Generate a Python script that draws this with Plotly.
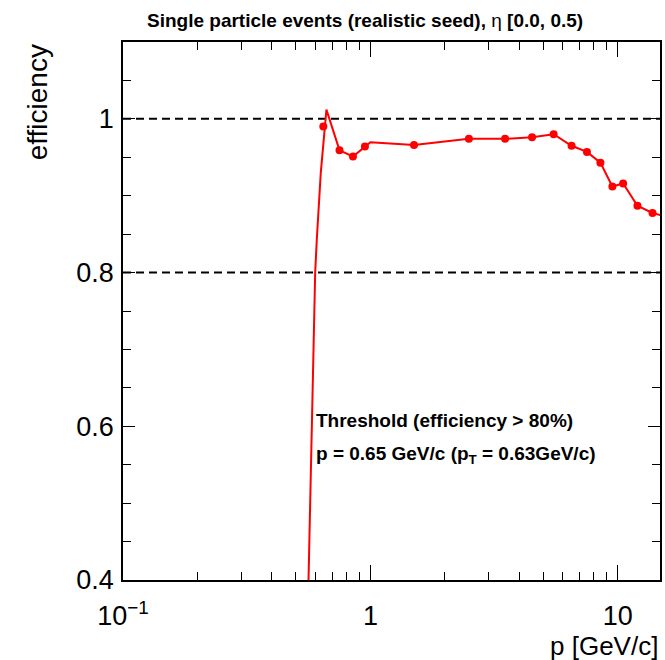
import plotly.graph_objects as go
import math

# ---- data ----
# measured efficiency points (markers)
point_p = [0.645, 0.75, 0.85, 0.95, 1.5, 2.5, 3.5, 4.5, 5.5, 6.5, 7.5, 8.5, 9.5, 10.5, 12.0, 13.8]
point_eff = [0.990, 0.959, 0.951, 0.964, 0.966, 0.974, 0.974, 0.976, 0.980, 0.965, 0.957, 0.943, 0.912, 0.916, 0.887, 0.8775]

# drawn curve (threshold fit + connecting line)
curve_p = [0.562, 0.580, 0.598, 0.607, 0.630, 0.664, 0.75, 0.85, 0.95, 1.0, 1.5, 2.5, 3.5, 4.5, 5.5, 6.5, 7.5, 8.5, 9.5, 10.5, 12.0, 13.8, 16.0]
curve_eff = [0.40, 0.62, 0.80, 0.843, 0.93, 1.012, 0.959, 0.951, 0.964, 0.9696, 0.966, 0.974, 0.974, 0.976, 0.980, 0.965, 0.957, 0.943, 0.912, 0.916, 0.887, 0.8775, 0.872]

ref_levels = [1.0, 0.8]

x_tickvals = [0.1, 1, 10]
x_ticktext = ["10<sup>\u22121</sup>", "1", "10"]
x_minor = [0.2, 0.3, 0.4, 0.5, 0.6, 0.7, 0.8, 0.9, 2, 3, 4, 5, 6, 7, 8, 9]
y_tickvals = [0.4, 0.6, 0.8, 1.0]
y_ticktext = ["0.4", "0.6", "0.8", "1"]

title_text = "<b>Single particle events (realistic seed), </b>\u03b7<b> [0.0, 0.5)</b>"
note1 = "<b>Threshold (efficiency > 80%)</b>"
note2 = "<b>p = 0.65 GeV/c (p<sub>T</sub> = 0.63GeV/c)</b>"

FONT = "Liberation Sans, Arial, Helvetica, sans-serif"
RED = "#ff0000"

fig = go.Figure()

for lv in ref_levels:
    fig.add_hline(y=lv, line=dict(color="black", width=2, dash="8px,5px"), layer="below")

fig.add_trace(go.Scatter(x=curve_p, y=curve_eff, mode="lines",
                         line=dict(color=RED, width=2), showlegend=False, hoverinfo="skip"))
fig.add_trace(go.Scatter(x=point_p, y=point_eff, mode="markers",
                         marker=dict(color=RED, size=8, symbol="circle"), showlegend=False))

frame_h = 538.0
def py(pix):  # pixel offset below plot top -> paper
    return 1 - pix / frame_h

fig.update_layout(
    width=665, height=660,
    margin=dict(l=123, r=3, t=42, b=80, pad=0),
    paper_bgcolor="white", plot_bgcolor="white",
    font=dict(family=FONT, color="black"),
    xaxis=dict(type="log", range=[-1, math.log10(14.8)],
               tickmode="array", tickvals=x_tickvals, ticktext=x_ticktext,
               ticks="inside", ticklen=15, tickwidth=1, tickcolor="black",
               minor=dict(tickmode="array", tickvals=x_minor, ticks="inside", ticklen=8, tickcolor="black", tickwidth=1, showgrid=False),
               showline=True, linecolor="black", linewidth=1.5, mirror="ticks",
               showgrid=False, zeroline=False,
               tickfont=dict(size=27, family=FONT), ticklabelstandoff=11),
    yaxis=dict(range=[0.4, 1.1],
               tickmode="array", tickvals=y_tickvals, ticktext=y_ticktext,
               ticks="inside", ticklen=12, tickwidth=1, tickcolor="black",
               minor=dict(dtick=0.05, tick0=0, ticks="inside", ticklen=8, tickcolor="black", tickwidth=1, showgrid=False),
               showline=True, linecolor="black", linewidth=1.5, mirror="ticks",
               showgrid=False, zeroline=False,
               tickfont=dict(size=27, family=FONT), ticklabelstandoff=2),
    annotations=[
        dict(text=title_text, xref="paper", yref="paper", x=(366 - 123) / 539, y=1 + 21 / frame_h,
             xanchor="center", yanchor="middle", showarrow=False, font=dict(size=19, family=FONT)),
        dict(text="efficiency", textangle=-90, xref="paper", yref="paper", x=-(123 - 37) / 539, y=1,
             xanchor="center", yanchor="top", showarrow=False, font=dict(size=28, family=FONT)),
        dict(text="p [GeV/c]", xref="paper", yref="paper", x=1, y=-(646 - 580) / frame_h,
             xanchor="right", yanchor="middle", showarrow=False, font=dict(size=26, family=FONT)),
        dict(text=note1, xref="paper", yref="paper", x=(315 - 123) / 539, y=py(420 - 42),
             xanchor="left", yanchor="middle", showarrow=False, font=dict(size=19, family=FONT)),
        dict(text=note2, xref="paper", yref="paper", x=(315 - 123) / 539, y=py(455 - 42),
             xanchor="left", yanchor="middle", showarrow=False, font=dict(size=19, family=FONT)),
    ],
)

fig.write_html("out.html")
